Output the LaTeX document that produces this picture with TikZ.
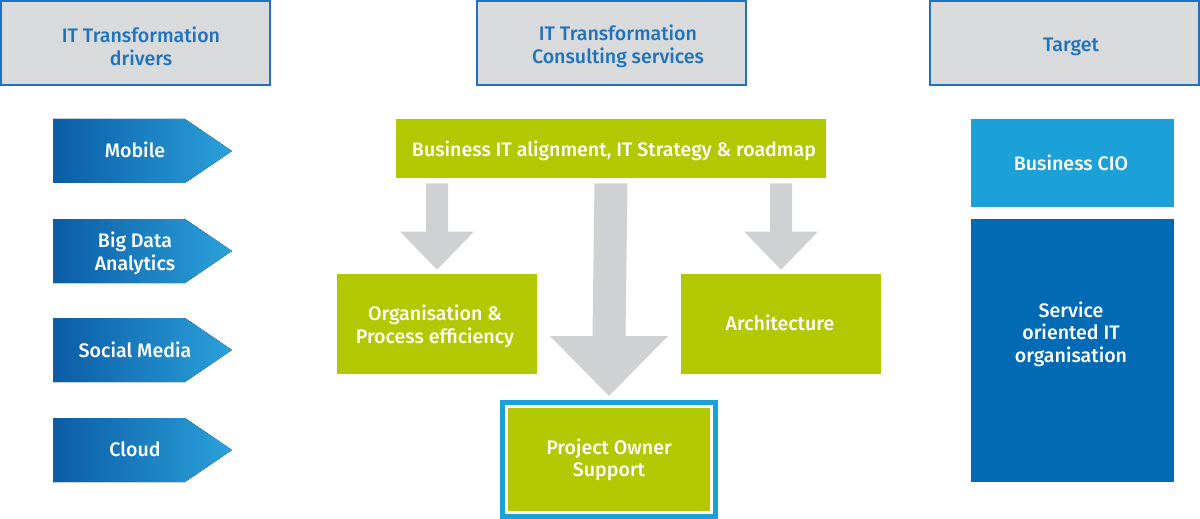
\documentclass[tikz,border=0pt]{standalone}
\usepackage{fontspec}
\setmainfont{Fira Sans}[BoldFont={Fira Sans Medium}]
\usetikzlibrary{calc}

\definecolor{hdrgray}{HTML}{D9DADB}
\definecolor{hdrblue}{HTML}{1E73BE}
\definecolor{itgreen}{HTML}{B2C800}
\definecolor{arrgray}{HTML}{D0D1D3}
\definecolor{drvdark}{HTML}{0B5CA5}
\definecolor{drvlight}{HTML}{2BA1DA}
\definecolor{cioblue}{HTML}{1BA0D8}
\definecolor{soblue}{HTML}{006AB4}

\tikzset{
  txt/.style={font=\fontsize{9.8}{11.3}\selectfont\bfseries, align=center, inner sep=0pt, text=white},
  header/.style={draw=hdrblue, line width=0.75pt, fill=hdrgray, inner sep=0pt,
    minimum width=134.5pt, minimum height=42pt},
  hdrtxt/.style={txt, text=hdrblue},
  greenbox/.style={fill=itgreen, inner sep=0pt},
  bluebox/.style={inner sep=0pt, minimum width=101.5pt},
  bigarrow/.style={fill=arrgray},
}

\begin{document}
\begin{tikzpicture}[x=0.5pt, y=-0.5pt]
  \useasboundingbox (0,0) rectangle (1200,519);

  % column headers
  \node[header] (hdrA) at (135.5,43) {};
  \node[header] (hdrB) at (611.5,43) {};
  \node[header] (hdrC) at (1064.5,43) {};
  \node[hdrtxt] (hdrAt) at (141,46.5) {IT Transformation\\drivers};
  \node[hdrtxt] (hdrBt) at (618,46.5) {IT Transformation\\Consulting services};
  \node[hdrtxt] (hdrCt) at (1071,47) {Target};

  % drivers
  \foreach \y/\ty/\name/\txt in {151/150/mobile/Mobile, 251/253.5/bigdata/{Big Data\\Analytics},
                                 350/350/social/{Social Media}, 450/449/cloud/Cloud} {
    \fill[left color=drvdark, right color=drvlight]
      (53,\y-32) -- (185,\y-32) -- (232,\y) -- (185,\y+32) -- (53,\y+32) -- cycle;
    \node[txt] (\name) at (135,\ty) {\txt};
  }

  % consulting services
  \node[greenbox, minimum width=215pt, minimum height=29.5pt] (biz) at (611,148.5) {};
  \node[greenbox, minimum width=100pt, minimum height=50pt] (org) at (437,324) {};
  \node[greenbox, minimum width=100pt, minimum height=50pt] (arch) at (781,324) {};
  \node[greenbox, draw=white, line width=1pt, minimum width=102pt, minimum height=52.5pt]
    (pos) at (609,459.5) {};
  \draw[cioblue, line width=2.5pt]
    ([xshift=-1.75pt, yshift=1.75pt]pos.north west) rectangle
    ([xshift=1.75pt, yshift=-1.75pt]pos.south east);
  \node[txt] (bizt) at (614,151) {Business IT alignment, IT Strategy \& roadmap};
  \node[txt] (orgt) at (435,326.5) {Organisation \&\\Process efficiency};
  \node[txt] (archt) at (780,323) {Architecture};
  \node[txt] (post) at (609,460) {Project Owner\\Support};

  % gray arrows
  \foreach \t in {org, arch} {
    \fill[bigarrow]
      ($(biz.south -| \t.north)+(-11,5)$) -- ($(biz.south -| \t.north)+(11,5)$)
      -- ($(\t.north)+(11,-42)$) -- ($(\t.north)+(37,-42)$) -- ($(\t.north)+(0,-4)$)
      -- ($(\t.north)+(-37,-42)$) -- ($(\t.north)+(-11,-42)$) -- cycle;
  }
  \fill[bigarrow]
    ($(biz.south)+(-16.5,5)$) -- ($(biz.south)+(16.5,5)$)
    -- ($(pos.north)+(16.5,-70)$) -- ($(pos.north)+(59,-70)$) -- ($(pos.north)+(0,-10)$)
    -- ($(pos.north)+(-59,-70)$) -- ($(pos.north)+(-16.5,-70)$) -- cycle;

  % target
  \node[bluebox, fill=cioblue, minimum height=44pt] (cio) at (1072.5,163) {};
  \node[bluebox, fill=soblue, minimum height=131.5pt] (soit) at (1072.5,350.5) {};
  \node[txt] (ciot) at (1071,163) {Business CIO};
  \node[txt] (soitt) at (1071,334) {Service\\oriented IT\\organisation};
\end{tikzpicture}
\end{document}
